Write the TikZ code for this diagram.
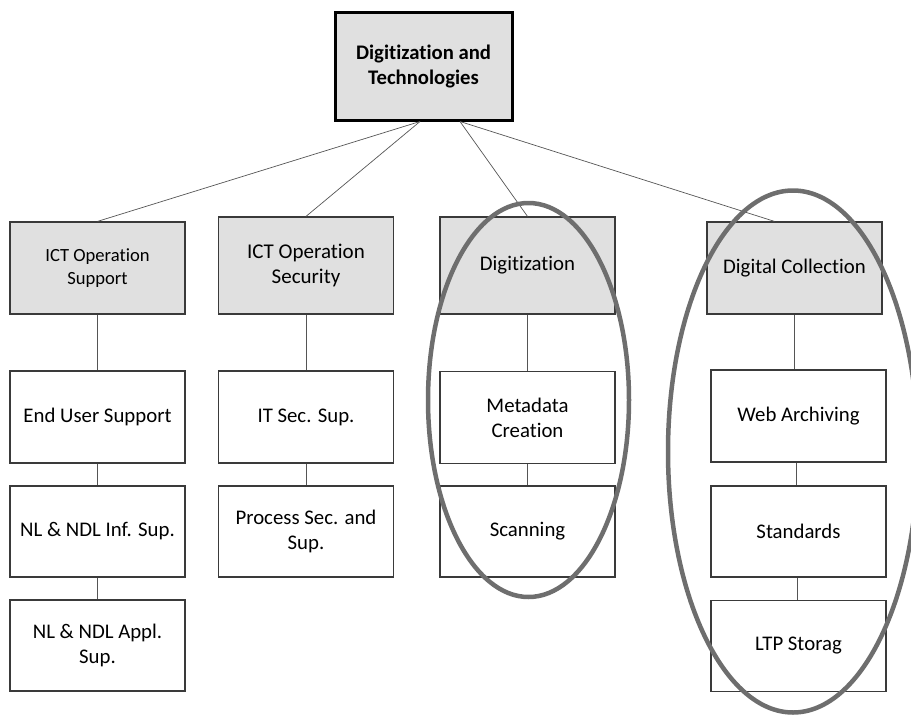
\documentclass[tikz,border=0pt]{standalone}
\usepackage{fontspec}
\setmainfont{Carlito}[Ligatures=NoCommon]
\usetikzlibrary{calc}
\definecolor{boxgray}{HTML}{E0E0E0}
\definecolor{edgecol}{HTML}{3A3A3A}
\definecolor{linkcol}{HTML}{555555}
\definecolor{ringcol}{HTML}{6E6E6E}
\begin{document}
\begin{tikzpicture}[x=1pt,y=-1pt,
  box/.style={draw=edgecol, line width=1.2pt, fill=white, minimum width=175pt, minimum height=92pt, align=center, inner sep=2pt, font=\fontsize{20.8}{25}\selectfont},
  headbox/.style={box, fill=boxgray},
  link/.style={draw=linkcol, line width=0.7pt},
  ring/.style={draw=ringcol, line width=4.5pt}]
\useasboundingbox (0,0) rectangle (911,715);
% top
\node[draw=black, line width=3pt, fill=boxgray, minimum width=177pt, minimum height=108pt, align=center, font=\fontsize{20.7}{25}\selectfont\bfseries] (top) at (423.5,66) {Digitization and\\Technologies};
% row 2
\node[headbox, font=\fontsize{18.6}{22.7}\selectfont] (c1r2) at (97.5,268) {ICT Operation\\Support};
\node[headbox, minimum height=97pt, font=\fontsize{21}{25}\selectfont] (c2r2) at (306,265.5) {ICT Operation\\Security};
\node[headbox, minimum height=97pt] (c3r2) at (527.5,265.5) {Digitization};
\node[headbox] (c4r2) at (794.5,268) {Digital Collection};
% row 3
\node[box] (c1r3) at (97.5,417) {End User Support};
\node[box] (c2r3) at (306,417) {IT Sec. Sup.};
\node[box] (c3r3) at (527.5,417.5) {Metadata\\Creation};
\node[box] (c4r3) at (798.5,416) {Web Archiving};
% row 4
\node[box, minimum height=91pt] (c1r4) at (97.5,531.5) {NL \& NDL Inf. Sup.};
\node[box, minimum height=91pt] (c2r4) at (306,531.5) {Process Sec. and\\Sup.};
\node[box, minimum height=91pt] (c3r4) at (527.5,531.5) {Scanning};
\node[box, minimum height=91pt] (c4r4) at (798.5,531.5) {Standards};
% row 5
\node[box, minimum height=91pt] (c1r5) at (97.5,645.5) {NL \& NDL Appl.\\Sup.};
\node[box, minimum height=91pt] (c4r5) at (798.5,646) {LTP Storag};
% connectors from top
\coordinate (tl) at ($(top.south)+(-3.5,0)$);
\coordinate (tr) at ($(top.south)+(36.5,0)$);
\draw[link] (tl) -- (c1r2.north);
\draw[link] (tl) -- (c2r2.north);
\draw[link] (tr) -- (c3r2.north);
\draw[link] (tr) -- ($(c4r2.north)+(-20,0)$);
% vertical connectors
\draw[link] (c1r2.south) -- (c1r3.north);
\draw[link] (c1r3.south) -- (c1r4.north);
\draw[link] (c1r4.south) -- (c1r5.north);
\draw[link] (c2r2.south) -- (c2r3.north);
\draw[link] (c2r3.south) -- (c2r4.north);
\draw[link] (c3r2.south) -- (c3r3.north);
\draw[link] (c3r3.south) -- (c3r4.north);
\draw[link] (c4r2.south) -- (c4r2.south |- c4r3.north);
\draw[link] ($(c4r3.south)+(-2,0)$) -- ($(c4r4.north)+(-2,0)$);
\draw[link] ($(c4r4.south)+(-1,0)$) -- ($(c4r5.north)+(-1,0)$);
% rings
\draw[ring] (528.5,400) ellipse (100.5 and 197);
\draw[ring] (793,451.5) ellipse (125 and 261);
\end{tikzpicture}
\end{document}
